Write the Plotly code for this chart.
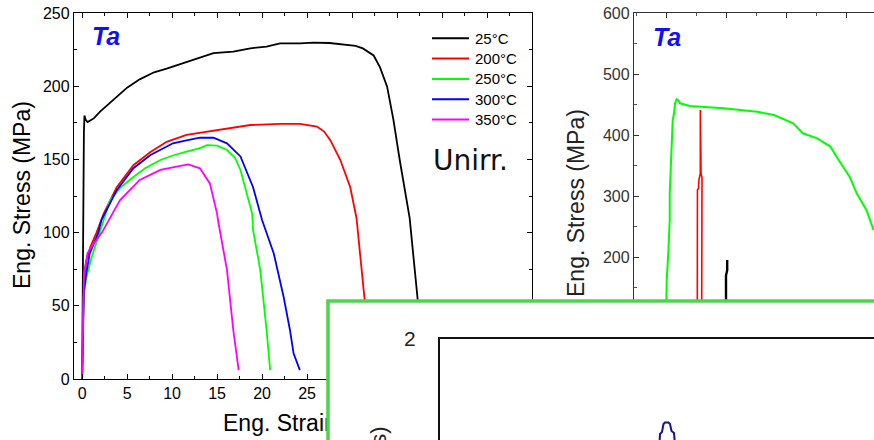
import plotly.graph_objects as go

W, H = 874, 440

# ---------------- left panel: unirradiated Ta, stress-strain vs temperature ----------------
temps = ["25°C", "200°C", "250°C", "300°C", "350°C"]
temp_colors = ["#000000", "#ff0000", "#00ff00", "#0000ff", "#ff00ff"]

strain_25 = [0.0, 0.1, 0.2, 0.26, 0.4, 0.6, 1.3, 2.0, 3.5, 5.0, 6.4, 8.0, 9.4, 11.6, 14.6, 16.8,
             18.7, 20.5, 22.0, 24.2, 25.7, 27.5, 29.4, 30.4, 31.2, 32.4, 33.1, 33.9, 34.6, 35.3,
             36.4, 37.3, 38.2, 39.0]
stress_25 = [0, 120, 168, 180, 177, 175.5, 178, 182.6, 190.6, 199, 204.7, 209.5, 212, 216.6, 222.6,
             223.6, 225.9, 227, 229.3, 229.3, 229.7, 229.5, 228.5, 227.5, 225.8, 221, 213, 199.7,
             177, 149.6, 110, 54, 20, 5]

strain_200 = [0.0, 0.05, 0.15, 0.33, 0.44, 0.7, 0.9, 1.6, 2.0, 2.4, 3.85, 5.7, 7.6, 9.4, 11.6, 15.0,
              18.7, 22.0, 24.2, 26.1, 26.9, 27.6, 28.7, 29.8, 30.5, 31.4, 32.0, 32.4]
stress_200 = [0, 30, 55, 72, 80, 85.8, 90, 100, 106, 113, 131, 146, 155, 162, 166.7, 170,
              173.5, 174.2, 174.2, 172.4, 169, 163, 149.6, 131, 109.8, 54, 20, 5]

strain_250 = [0.0, 0.08, 0.2, 0.5, 1.0, 1.6, 2.4, 3.1, 4.3, 5.7, 7.0, 8.7, 10.0, 11.6, 13.0, 13.9,
              15.0, 16.1, 17.0, 17.6, 18.9, 19.0, 19.8, 20.5, 20.9]
stress_250 = [0, 40, 58, 70, 82, 94, 108.6, 122, 131, 138, 144, 149.6, 152.5, 155.3, 157.5, 159.8,
              159.4, 156.4, 151, 142.8, 113, 101.8, 74.5, 33.5, 6.1]

strain_300 = [0.0, 0.08, 0.2, 0.45, 0.85, 1.8, 2.15, 3.85, 5.7, 7.6, 10.1, 11.6, 13.1, 14.6, 16.1,
              17.6, 19.0, 20.0, 21.3, 22.4, 23.1, 23.5, 23.9, 24.2]
stress_300 = [0, 40, 60, 72, 85.8, 100, 108.6, 129, 144, 153, 161, 163, 164.8, 164.8, 161,
              152, 131, 108.6, 85.8, 56, 33.5, 17.6, 10.7, 6.1]

strain_350 = [0.0, 0.07, 0.2, 0.6, 1.0, 2.2, 3.0, 4.2, 6.4, 8.7, 10.5, 11.8, 13.1, 14.2, 15.0, 15.1,
              16.1, 16.8, 17.4]
stress_350 = [0, 40, 72, 85.8, 90, 100, 108.6, 122, 136, 142.8, 145, 146.6, 143.9, 133.6, 113,
              108.6, 74.5, 33.5, 6.1]

left_strains = [strain_25, strain_200, strain_250, strain_300, strain_350]
left_stresses = [stress_25, stress_200, stress_250, stress_300, stress_350]

# ---------------- right panel: same alloy, second test series ----------------
r_green_strain = [-0.1, 0.0, 0.06, 0.19, 0.31, 0.31, 0.42, 0.56, 0.67, 0.75, 0.89, 1.03, 1.17, 2.0,
                  4.8, 7.6, 9.0, 10.6, 11.4, 12.6, 13.7, 14.2, 15.3, 15.9, 16.7, 17.3]
r_green_stress = [0, 129.5, 162, 206, 260.6, 304, 359, 424.6, 435.6, 452, 458.5, 457, 452, 447.5,
                  443.8, 438, 432.8, 419, 402.8, 394.6, 381, 364.6, 331.6, 304, 277, 244]

r_red_strain = [2.6, 2.62, 2.7, 2.75, 2.86, 2.86, 2.92, 2.92, 3.0, 2.97, 2.96]
r_red_stress = [0, 310, 312, 327, 337, 441, 441, 337, 330, 200, 0]

r_black_strain = [5.0, 5.0, 5.1, 5.1]
r_black_stress = [0, 170, 178, 195]

# ---------------- inset ----------------
inset_x = [50.58, 50.69, 51.15, 51.5, 51.84, 52.65, 53.0, 53.34, 53.92, 54.1]
inset_y = [-0.05, 0.119, 0.158, 0.317, 0.347, 0.347, 0.317, 0.178, 0.139, -0.05]
inset_ytick = [2]

left_xtitle = "Eng. Strain (%)"


def fx(p):
    """pixel column -> paper x"""
    return p / W


def fy(p):
    """pixel row -> paper y"""
    return 1 - p / H


FONT = "Liberation Sans, Arial, sans-serif"

fig = go.Figure()

# subplot xy: left panel
for s, st, name, col in zip(left_strains, left_stresses, temps, temp_colors):
    fig.add_trace(go.Scatter(x=s, y=st, mode="lines", name=name,
                             line=dict(color=col, width=1.8),
                             xaxis="x", yaxis="y", hoverinfo="skip"))

# subplot x2y2: right panel
fig.add_trace(go.Scatter(x=r_green_strain, y=r_green_stress, mode="lines",
                         line=dict(color="#00ff00", width=2), xaxis="x2", yaxis="y2",
                         hoverinfo="skip"))
fig.add_trace(go.Scatter(x=r_red_strain, y=r_red_stress, mode="lines",
                         line=dict(color="#ff0000", width=1.6), xaxis="x2", yaxis="y2",
                         hoverinfo="skip"))
fig.add_trace(go.Scatter(x=r_black_strain, y=r_black_stress, mode="lines",
                         line=dict(color="#000000", width=2.4), xaxis="x2", yaxis="y2",
                         hoverinfo="skip"))

# subplot x3y3: strip under the left panel holding its x-axis title
# (kept in the cartesian layer so the inset card is painted over it)
fig.add_trace(go.Scatter(x=[0.5], y=[0.5], mode="text", text=[left_xtitle],
                         textposition="middle center",
                         textfont=dict(family=FONT, size=23, color="#000"),
                         cliponaxis=False, xaxis="x3", yaxis="y3", hoverinfo="skip"))

# subplot x4y4: white inset card
fig.add_trace(go.Scatter(x=[0.5], y=[0.5], mode="markers", marker=dict(opacity=0),
                         xaxis="x4", yaxis="y4", hoverinfo="skip"))
# subplot x5y5: inner axes of the inset
fig.add_trace(go.Scatter(x=inset_x, y=inset_y, mode="lines",
                         line=dict(color="#14148c", width=2), xaxis="x5", yaxis="y5",
                         hoverinfo="skip"))

tick_common = dict(showgrid=False, zeroline=False, showline=True, ticks="inside",
                   ticklen=5, tickwidth=1, linewidth=1.3, automargin=False)

fig.update_layout(
    width=W, height=H, autosize=False,
    margin=dict(l=0, r=0, t=0, b=0, pad=0, autoexpand=False),
    paper_bgcolor="white", plot_bgcolor="white",
    showlegend=False,
    xaxis=dict(domain=[fx(74), fx(532)], range=[-0.9, 50], anchor="y",
               dtick=5, tick0=0, mirror="ticks", linecolor="#000", tickcolor="#000",
               tickfont=dict(family=FONT, size=16, color="#000"),
               minor=dict(dtick=2.5, tick0=0, ticks="inside", ticklen=3, tickcolor="#000",
                          showgrid=False),
               **tick_common),
    yaxis=dict(domain=[fy(379), fy(13)], range=[0, 250], anchor="x",
               dtick=50, tick0=0, mirror="ticks", linecolor="#000", tickcolor="#000",
               tickfont=dict(family=FONT, size=16, color="#000"),
               minor=dict(dtick=25, tick0=0, ticks="inside", ticklen=3, tickcolor="#000",
                          showgrid=False),
               **tick_common),
    xaxis2=dict(domain=[fx(634), 1], range=[-2.667, 17.333], anchor="y2",
                dtick=5, tick0=0, mirror="ticks", linecolor="#333", tickcolor="#333",
                tickfont=dict(family=FONT, size=16, color="#333"),
                minor=dict(dtick=2.5, tick0=0, ticks="inside", ticklen=3, tickcolor="#555",
                           showgrid=False),
                **tick_common),
    yaxis2=dict(domain=[fy(379), fy(13)], range=[0, 600], anchor="x2",
                dtick=100, tick0=0, mirror=False, linecolor="#333", tickcolor="#333",
                tickfont=dict(family=FONT, size=16, color="#333"),
                minor=dict(dtick=50, tick0=0, ticks="inside", ticklen=3, tickcolor="#555",
                           showgrid=False),
                **tick_common),
    # title strip: 150..452 px wide, 410..440 px tall; text centred at (301, 425)
    xaxis3=dict(domain=[fx(150), fx(452)], range=[0, 1], anchor="y3", visible=False),
    yaxis3=dict(domain=[0, fy(410)], range=[0, 1], anchor="x3", visible=False),
    xaxis4=dict(domain=[fx(328), 1], range=[0, 1], anchor="y4", visible=False),
    yaxis4=dict(domain=[0, fy(301)], range=[0, 1], anchor="x4", visible=False),
    xaxis5=dict(domain=[fx(440), 1], range=[0, 100], anchor="y5", side="top",
                showline=True, linecolor="#111", linewidth=2.2, ticks="",
                showticklabels=False, showgrid=False, zeroline=False, automargin=False),
    yaxis5=dict(domain=[0, fy(339)], range=[0, 2], anchor="x5",
                showline=True, linecolor="#111", linewidth=2.2, ticks="",
                tickvals=inset_ytick, ticktext=[str(v) for v in inset_ytick],
                ticklabelstandoff=18,
                tickfont=dict(family=FONT, size=21, color="#222"),
                showgrid=False, zeroline=False, automargin=False),
)

# green frame of the inset
fig.add_shape(type="rect", xref="paper", yref="paper",
              x0=fx(328), y0=fy(301), x1=fx(W + 20), y1=fy(H + 20),
              line=dict(color="#4dd64d", width=3.6), fillcolor="rgba(0,0,0,0)",
              layer="above")

# hand-built legend for the left panel
leg_y0, leg_step = 38.3, 20.3
for i, (name, col) in enumerate(zip(temps, temp_colors)):
    yy = leg_y0 + i * leg_step
    fig.add_shape(type="line", xref="paper", yref="paper",
                  x0=fx(432), x1=fx(469), y0=fy(yy), y1=fy(yy),
                  line=dict(color=col, width=2))
    fig.add_annotation(text=name, xref="paper", yref="paper", x=fx(473), y=fy(yy),
                       xanchor="left", yanchor="middle", showarrow=False,
                       font=dict(family=FONT, size=15, color="#000"))

annos = [
    dict(text="<b><i>Ta</i></b>", x=fx(90), y=fy(36), xanchor="left", yanchor="middle",
         font=dict(family=FONT, size=25, color="#1010f0")),
    dict(text="<b><i>Ta</i></b>", x=fx(651), y=fy(37), xanchor="left", yanchor="middle",
         font=dict(family=FONT, size=25, color="#1010f0")),
    dict(text="Unirr.", x=fx(431), y=fy(160), xanchor="left", yanchor="middle",
         font=dict(family="DejaVu Sans, sans-serif", size=28, color="#111")),
    dict(text="Eng. Stress (MPa)", x=fx(22), y=fy(195), xanchor="center", yanchor="middle",
         textangle=-90, font=dict(family=FONT, size=23, color="#000")),
    dict(text="Eng. Stress (MPa)", x=fx(576), y=fy(299), xanchor="center", yanchor="bottom",
         textangle=-90, font=dict(family=FONT, size=23, color="#222")),
    dict(text="(s)", x=fx(378), y=fy(424), xanchor="center", yanchor="top",
         textangle=-90, font=dict(family=FONT, size=22, color="#222")),
]
for a in annos:
    fig.add_annotation(xref="paper", yref="paper", showarrow=False, **a)

fig.write_html("out.html")
